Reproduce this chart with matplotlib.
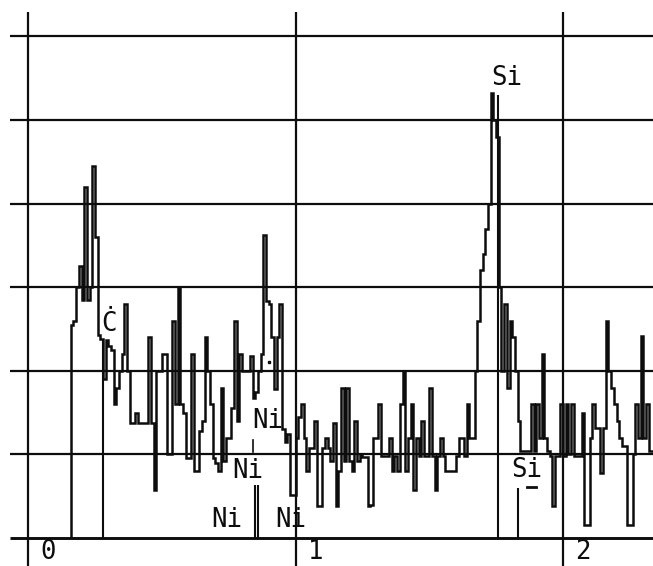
import numpy as np
import matplotlib
matplotlib.use("Agg")
import matplotlib.pyplot as plt

# ---- data -------------------------------------------------------------
# EDS spectrum, channel heights in grid units (one grid line = 1 unit)
start_keV = 0.16
chan_keV = 0.01
counts = [
    2.55, 2.6, 3.0, 3.25, 2.85, 4.2, 2.85, 3.0, 4.45, 3.6,      # 0-9
    2.43, 2.38, 1.9, 2.37, 2.3, 2.25, 1.6, 1.8, 2.0, 2.2,       # 10-19
    2.8, 2.0, 1.37, 1.37, 1.5, 1.37, 1.37, 1.37, 1.37, 2.4,     # 20-29
    1.37, 0.57, 2.0, 2.0, 2.2, 2.2, 1.0, 1.0, 2.6, 1.6,         # 30-39
    3.0, 1.6, 1.5, 0.96, 0.96, 2.2, 0.8, 0.8, 1.28, 1.4,        # 40-49
    2.4, 2.0, 1.6, 0.96, 0.9, 0.8, 1.8, 0.92, 1.2, 1.2,         # 50-59
    1.56, 2.6, 1.4, 2.2, 2.0, 2.0, 2.0, 2.18, 1.68, 1.75,       # 60-69
    2.0, 2.2, 3.62, 2.84, 2.8, 2.4, 1.78, 2.4, 2.8, 1.3,        # 70-79
    1.15, 1.24, 0.52, 0.52, 1.2, 1.45, 1.6, 1.2, 0.8, 1.08,     # 80-89
    1.08, 1.4, 0.38, 0.38, 1.08, 1.2, 1.08, 0.92, 1.38, 0.38,   # 90-99
    0.8, 1.8, 0.92, 1.8, 0.92, 0.8, 1.4, 0.92, 1.0, 0.97,       # 100-109
    0.97, 0.38, 0.4, 1.2, 1.2, 1.6, 0.98, 0.98, 0.98, 1.2,      # 110-119
    0.8, 0.98, 0.8, 1.6, 2.0, 0.8, 1.2, 1.6, 0.58, 1.2,         # 120-129
    0.98, 1.4, 0.98, 0.98, 1.8, 0.98, 0.58, 0.98, 1.2, 0.98,    # 130-139
    0.8, 0.8, 0.8, 0.8, 0.98, 1.2, 1.2, 0.98, 1.6, 1.2,         # 140-149
    1.2, 2.0, 2.6, 3.2, 3.4, 3.7, 4.0, 5.32, 5.0, 4.8,          # 150-159
    3.0, 2.0, 2.8, 1.8, 2.6, 2.4, 2.0, 1.4, 1.04, 1.04,         # 160-169
    1.04, 1.04, 1.6, 1.04, 1.6, 1.2, 2.2, 1.2, 1.04, 0.98,      # 170-179
    0.38, 0.98, 0.98, 1.6, 0.98, 1.6, 1.0, 1.6, 0.98, 0.98,     # 180-189
    0.98, 1.5, 0.16, 0.16, 1.2, 1.6, 1.32, 1.32, 0.78, 1.32,    # 190-199
    2.6, 2.0, 1.8, 1.6, 1.4, 1.2, 1.1, 1.1, 0.16, 0.16,         # 200-209
    1.0, 1.6, 1.2, 2.42, 1.2, 1.6, 1.04, 1.04,                  # 210-217
]

grid_levels = [1, 2, 3, 4, 5, 6]
tick_keV = [0, 1, 2]
tick_labels = ["0", "1", "2"]

# KLM marker lines (energy keV, top height)
marker_keV = [0.279, 0.847, 0.860, 1.758, 1.833]
marker_top = [2.38, 0.63, 0.63, 5.3, 0.60]

# element labels: text, left energy (keV), baseline height
label_text = ["Si", "Ċ", "Ni", "Ni", "Ni", "Ni", "Si"]
label_keV = [1.732, 0.275, 0.838, 0.762, 0.686, 0.926, 1.808]
label_y = [5.42, 2.47, 1.32, 0.72, 0.13, 0.13, 0.73]

# ---- figure -----------------------------------------------------------
fig = plt.figure(figsize=(6.53, 5.66), dpi=100)
ax = fig.add_axes([0, 0, 1, 1])
ax.axis("off")
ax.set_xlim(-0.1047, 2.3364)
ax.set_ylim(-0.335, 6.435)

ink = "#0d0d0d"

# grid
ax.hlines(grid_levels, -0.067, 2.5, colors=ink, lw=1.6)
ax.hlines([0], -0.067, 2.5, colors=ink, lw=2.1)
ax.vlines(tick_keV, -0.5, 6.29, colors=ink, lw=1.6)

# spectrum
edges = start_keV + chan_keV * np.arange(len(counts) + 1)
ax.stairs(counts, edges, baseline=0, color=ink, lw=1.8)

# markers
ax.vlines(marker_keV, 0, marker_top, colors=ink, lw=1.5)
ax.plot([0.841, 0.841], [1.03, 1.17], color=ink, lw=1.2)
ax.plot([0.901], [2.1], marker="s", ms=1.5, color=ink)
ax.plot([1.866, 1.898], [0.61, 0.61], color=ink, lw=2.0)

font = dict(family="DejaVu Sans Mono", fontsize=18.5, color=ink)
for t, x, y in zip(label_text, label_keV, label_y):
    ax.text(x, y, t, ha="left", va="baseline", **font)

for k, t in zip(tick_keV, tick_labels):
    ax.text(k + 0.045, -0.318, t, ha="left", va="bottom", **font)

fig.savefig("out.png", dpi=100)
